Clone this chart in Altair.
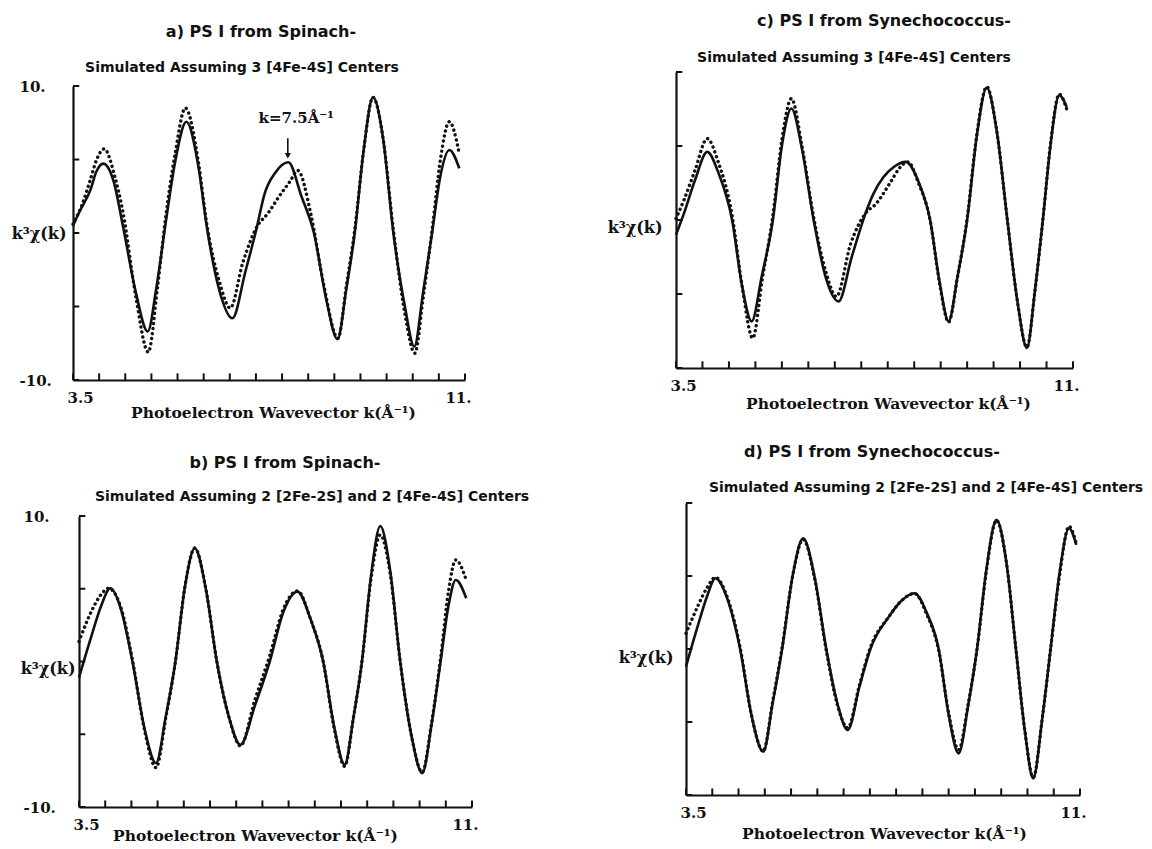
import altair as alt
import pandas as pd

SERIF = "DejaVu Serif"
SANS = "DejaVu Sans"
INK = "#111111"

X_TICKS = [3.5, 4.0, 4.5, 5.0, 5.5, 6.0, 6.5, 7.0, 7.5, 8.0, 8.5, 9.0, 9.5, 10.0, 10.5, 11.0]
Y_TICKS = [-10, -5, 0, 5, 10]
X_DOMAIN = [3.5, 11]
Y_DOMAIN = [-10, 10]
TICK_LEN_V = 0.45   # inward x-tick length, in y units (~6.5 px)
TICK_LEN_K = 0.12   # inward y-tick length, in k units (~6 px)
X_TITLE = "Photoelectron Wavevector k(Å⁻¹)"
Y_TITLE = "k³χ(k)"

# ---- panel a : PS I from Spinach, 3 [4Fe-4S]
A_FIT_K = [3.50, 3.63, 3.83, 3.95, 4.08, 4.27, 4.46, 4.70, 4.93, 5.10, 5.29, 5.45, 5.67, 5.90, 6.06, 6.30, 6.55, 6.80, 7.02, 7.16,
           7.37, 7.62, 7.87, 8.11, 8.35, 8.56, 8.73, 8.89, 9.06, 9.24, 9.43, 9.63, 9.85, 10.03, 10.20, 10.37, 10.53, 10.70, 10.89]
A_FIT_V = [0.5, 1.5, 2.9, 4.2, 4.72, 3.6, 0.4, -4.0, -6.7, -3.6, 1.1, 4.76, 7.57, 4.5, 0.43, -3.9, -5.8, -2.6, 0.43, 2.6,
           4.1, 4.81, 2.5, 0.0, -4.6, -7.23, -3.8, 0.0, 5.6, 9.23, 6.5, 0.0, -5.0, -7.73, -4.0, 0.0, 3.9, 5.65, 4.4]
A_DAT_K = [3.50, 3.67, 3.83, 3.95, 4.10, 4.30, 4.46, 4.70, 4.94, 5.12, 5.27, 5.45, 5.65, 5.90, 6.06, 6.30, 6.51, 6.75, 7.02, 7.23,
           7.44, 7.65, 7.80, 8.05, 8.29, 8.57, 8.73, 8.89, 9.06, 9.24, 9.43, 9.63, 9.85, 10.04, 10.20, 10.37, 10.53, 10.70, 10.89]
A_DAT_V = [0.6, 1.9, 3.6, 4.97, 5.72, 3.83, 1.34, -4.3, -8.1, -3.6, 1.0, 5.3, 8.5, 4.8, 0.6, -3.3, -5.1, -2.0, 0.43, 1.34,
           2.47, 3.5, 4.25, 1.3, -3.4, -7.16, -3.6, 0.2, 5.6, 9.23, 6.5, 0.2, -5.5, -8.18, -4.4, 0.2, 5.0, 7.57, 5.4]

# ---- panel b : PS I from Spinach, 2 [2Fe-2S] + 2 [4Fe-4S]
B_FIT_K = [3.50, 3.75, 3.92, 4.10, 4.30, 4.52, 4.75, 4.97, 5.16, 5.34, 5.52, 5.71, 5.92, 6.13, 6.36, 6.58, 6.86, 7.14, 7.40,
           7.67, 7.92, 8.16, 8.37, 8.57, 8.74, 8.90, 9.07, 9.25, 9.44, 9.63, 9.85, 10.05, 10.23, 10.40, 10.55, 10.69, 10.89]
B_FIT_V = [-1.1, 1.9, 3.8, 5.03, 3.6, 0.0, -4.6, -6.98, -3.7, 0.0, 5.1, 7.78, 5.0, 0.0, -3.8, -5.72, -3.0, 0.0, 3.4,
           4.8, 2.9, 0.0, -4.5, -7.09, -3.8, 0.0, 5.8, 9.31, 6.2, 0.0, -5.2, -7.67, -4.3, 0.0, 3.8, 5.6, 4.35]
B_DAT_K = [3.50, 3.75, 3.92, 4.06, 4.30, 4.52, 4.75, 4.97, 5.16, 5.34, 5.52, 5.71, 5.92, 6.13, 6.36, 6.58, 6.86, 7.14, 7.40,
           7.67, 7.92, 8.16, 8.37, 8.57, 8.74, 8.90, 9.07, 9.25, 9.44, 9.63, 9.85, 10.05, 10.23, 10.40, 10.55, 10.69, 10.89]
B_DAT_V = [1.37, 3.55, 4.6, 5.03, 3.7, 0.1, -4.7, -7.3, -3.8, 0.0, 5.1, 7.8, 5.0, 0.0, -3.8, -5.8, -2.6, 0.4, 3.6,
           4.85, 2.9, 0.0, -4.6, -7.2, -3.8, 0.0, 5.6, 8.7, 6.0, 0.0, -5.2, -7.6, -4.2, 0.2, 4.8, 6.98, 5.6]

# ---- panel c : PS I from Synechococcus, 3 [4Fe-4S]
C_FIT_K = [3.50, 3.65, 3.86, 4.09, 4.30, 4.56, 4.75, 4.93, 5.12, 5.33, 5.50, 5.68, 5.88, 6.10, 6.33, 6.57, 6.82, 7.08, 7.22, 7.42,
           7.62, 7.84, 8.08, 8.30, 8.48, 8.65, 8.82, 9.00, 9.18, 9.37, 9.56, 9.76, 9.95, 10.13, 10.28, 10.43, 10.58, 10.74, 10.88]
C_FIT_V = [-1.0, 0.45, 2.7, 4.6, 3.2, 0.0, -4.5, -6.85, -3.8, 0.0, 5.0, 7.53, 4.8, 0.0, -3.9, -5.5, -2.5, 0.45, 1.7, 2.9,
           3.6, 3.93, 2.6, 0.0, -4.2, -6.85, -3.8, 0.0, 5.6, 8.94, 6.0, 0.0, -5.5, -8.65, -4.8, 0.0, 5.2, 8.43, 7.64]
C_DAT_K = [3.50, 3.65, 3.86, 4.09, 4.30, 4.56, 4.75, 4.95, 5.13, 5.33, 5.50, 5.68, 5.88, 6.10, 6.33, 6.53, 6.80, 7.08, 7.28, 7.56,
           7.72, 7.88, 8.08, 8.30, 8.48, 8.65, 8.82, 9.00, 9.18, 9.37, 9.56, 9.76, 9.95, 10.13, 10.28, 10.43, 10.58, 10.74, 10.88]
C_DAT_V = [0.1, 1.35, 3.37, 5.5, 3.9, 0.3, -4.5, -7.98, -4.0, 0.3, 5.4, 8.2, 5.0, 0.2, -3.5, -5.17, -1.6, 0.45, 1.1, 2.6,
           3.5, 3.93, 2.5, 0.0, -4.3, -6.9, -3.8, 0.1, 5.7, 9.0, 6.0, 0.0, -5.5, -8.6, -4.8, 0.0, 5.3, 8.5, 7.5]

# ---- panel d : PS I from Synechococcus, 2 [2Fe-2S] + 2 [4Fe-4S]
D_FIT_K = [3.50, 3.72, 3.90, 4.06, 4.28, 4.53, 4.75, 4.97, 5.15, 5.33, 5.53, 5.73, 5.95, 6.17, 6.38, 6.58, 6.80, 7.01, 7.36,
           7.60, 7.85, 8.08, 8.31, 8.50, 8.69, 8.87, 9.04, 9.22, 9.41, 9.60, 9.78, 9.95, 10.11, 10.28, 10.44, 10.61, 10.79, 10.93]
D_FIT_V = [-1.2, 1.53, 3.6, 4.85, 3.5, 0.0, -4.6, -7.04, -3.7, 0.0, 5.0, 7.59, 4.9, 0.0, -3.7, -5.55, -2.6, 0.0, 2.2,
           3.3, 3.82, 2.5, 0.0, -4.5, -7.15, -3.9, 0.0, 5.5, 8.85, 5.9, 0.0, -5.6, -8.87, -4.8, 0.0, 5.2, 8.27, 7.13]
D_DAT_K = [3.50, 3.72, 3.90, 4.06, 4.28, 4.53, 4.75, 4.97, 5.15, 5.33, 5.53, 5.73, 5.95, 6.17, 6.38, 6.58, 6.80, 7.01, 7.36,
           7.60, 7.85, 8.08, 8.31, 8.50, 8.69, 8.87, 9.04, 9.22, 9.41, 9.60, 9.78, 9.95, 10.11, 10.28, 10.44, 10.61, 10.79, 10.93]
D_DAT_V = [1.07, 2.9, 4.2, 4.9, 3.6, 0.1, -4.6, -7.0, -3.6, 0.1, 5.0, 7.5, 4.8, -0.1, -3.8, -5.4, -2.5, 0.1, 2.2,
           3.3, 3.8, 2.4, -0.1, -4.4, -6.9, -3.8, 0.0, 5.4, 8.8, 5.9, 0.0, -5.6, -8.8, -4.8, 0.0, 5.0, 8.4, 7.2]

# annotation in panel a
ANN_TEXT = "k=7.5Å⁻¹"
ANN_TEXT_POS = (7.77, 7.8)
ANN_ARROW_K = 7.61
ANN_ARROW_V = (6.45, 5.45)
ANN_HEAD_V = 5.25


def text_layer(t, x, y, font, size, align="center", baseline="middle", opacity=1.0, weight="bold"):
    return alt.Chart(pd.DataFrame({"t": [t]})).mark_text(
        font=font, fontSize=size, fontWeight=weight, align=align, baseline=baseline,
        color=INK, opacity=opacity,
    ).encode(x=alt.value(x), y=alt.value(y), text="t:N")


def spacer(x, y, align, baseline):
    return text_layer(".", x, y, SANS, 1, align=align, baseline=baseline, opacity=0.0, weight="normal")


def panel(cfg):
    w, h, ox, oy = cfg["w"], cfg["h"], cfg["ox"], cfg["oy"]
    xscale = alt.Scale(domain=X_DOMAIN, range=[ox, ox + w], nice=False, zero=False)
    yscale = alt.Scale(domain=Y_DOMAIN, range=[oy + h, oy], nice=False, zero=False)

    x_axis = alt.Axis(
        values=[3.5, 11], labelExpr="datum.value == 11 ? '11.' : '3.5'",
        domain=True, ticks=False, tickSize=0, grid=False, domainColor=INK, domainWidth=2.2,
        labelFont=SERIF, labelFontWeight="bold", labelFontSize=15, labelColor=INK,
        labelPadding=17, labelBaseline="middle", labelFlush=True, labelFlushOffset=6,
        title=X_TITLE, titleFont=SERIF, titleFontWeight="bold", titleFontSize=15.5, titleColor=INK,
        titleX=cfg["xt"][0], titleY=cfg["xt"][1], titleAlign="center", titleBaseline="middle",
    )
    y_axis = alt.Axis(
        values=[-10, 10], labelExpr="datum.value + '.'", labels=cfg["ylabels"],
        domain=True, ticks=False, tickSize=0, grid=False, domainColor=INK, domainWidth=2.2,
        offset=-ox,
        labelFont=SERIF, labelFontWeight="bold", labelFontSize=15, labelColor=INK,
        labelPadding=cfg["ylab_pad"], labelAlign="left", labelBaseline="middle",
        title=Y_TITLE, titleFont=SERIF, titleFontWeight="bold", titleFontSize=16, titleColor=INK,
        titleAngle=0, titleX=cfg["yt"][0], titleY=cfg["yt"][1], titleAlign="right", titleBaseline="middle",
    )

    def enc(chart, **extra):
        return chart.encode(
            x=alt.X("k:Q", scale=xscale, axis=x_axis),
            y=alt.Y("v:Q", scale=yscale, axis=y_axis),
            **extra,
        )

    fit = enc(alt.Chart(pd.DataFrame({"k": cfg["fit_k"], "v": cfg["fit_v"]})).mark_line(
        interpolate="monotone", color=INK, strokeWidth=2.6))
    dat = enc(alt.Chart(pd.DataFrame({"k": cfg["dat_k"], "v": cfg["dat_v"]})).mark_line(
        interpolate="monotone", color=INK, strokeWidth=3.4, strokeDash=[0.1, 5], strokeCap="round"))

    xtick_df = pd.DataFrame({"k": [float(t) for t in X_TICKS]})
    xtick_df["v"] = float(Y_DOMAIN[0])
    xtick_df["v2"] = Y_DOMAIN[0] + TICK_LEN_V
    ytick_df = pd.DataFrame({"v": [float(t) for t in Y_TICKS]})
    ytick_df["k"] = float(X_DOMAIN[0])
    ytick_df["k2"] = X_DOMAIN[0] + TICK_LEN_K
    xt = enc(alt.Chart(xtick_df).mark_rule(color=INK, strokeWidth=2), y2="v2:Q")
    yt = enc(alt.Chart(ytick_df).mark_rule(color=INK, strokeWidth=2), x2="k2:Q")

    layers = [fit, dat, xt, yt]
    layers.append(text_layer(cfg["title"][0], cfg["title"][1], cfg["title"][2], SANS, 16))
    layers.append(text_layer(cfg["sub"][0], cfg["sub"][1], cfg["sub"][2], SANS, 14))
    for sp in cfg["spacers"]:
        layers.append(spacer(*sp))

    if cfg.get("annotate"):
        layers.append(enc(
            alt.Chart(pd.DataFrame({"k": [ANN_TEXT_POS[0]], "v": [ANN_TEXT_POS[1]], "t": [ANN_TEXT]}))
            .mark_text(font=SERIF, fontSize=15, fontWeight="bold", color=INK), text="t:N"))
        layers.append(enc(
            alt.Chart(pd.DataFrame({"k": [ANN_ARROW_K], "v": [ANN_ARROW_V[0]], "v2": [ANN_ARROW_V[1]]}))
            .mark_rule(color=INK, strokeWidth=1.6), y2="v2:Q"))
        layers.append(enc(
            alt.Chart(pd.DataFrame({"k": [ANN_ARROW_K], "v": [ANN_HEAD_V]}))
            .mark_point(shape="triangle-down", filled=True, size=40, color=INK, opacity=1)))

    return alt.layer(*layers).properties(width=w + ox, height=h + oy)


pa = panel(dict(
    fit_k=A_FIT_K, fit_v=A_FIT_V, dat_k=A_DAT_K, dat_v=A_DAT_V, w=392, h=294, ox=0, oy=14,
    ylabels=True, ylab_pad=54, yt=(-7, 161), xt=(200, 32),
    title=("a) PS I from Spinach-", 188, -40), sub=("Simulated Assuming 3 [4Fe-4S] Centers", 169, -4),
    spacers=[(-68, 0, "left", "middle"), (0, 356, "left", "bottom")], annotate=True,
))
pb = panel(dict(
    fit_k=B_FIT_K, fit_v=B_FIT_V, dat_k=B_DAT_K, dat_v=B_DAT_V, w=393, h=291, ox=6, oy=0,
    ylabels=True, ylab_pad=56, yt=(-4, 152), xt=(182, 28),
    title=("b) PS I from Spinach-", 212, -53),
    sub=("Simulated Assuming 2 [2Fe-2S] and 2 [4Fe-4S] Centers", 239, -19),
    spacers=[(0, -68, "left", "top"), (479, 100, "right", "middle")],
))
pc = panel(dict(
    fit_k=C_FIT_K, fit_v=C_FIT_V, dat_k=C_DAT_K, dat_v=C_DAT_V, w=397, h=296, ox=0, oy=0,
    ylabels=False, ylab_pad=54, yt=(-14, 155), xt=(212, 35),
    title=("c) PS I from Synechococcus-", 208, -51), sub=("Simulated Assuming 3 [4Fe-4S] Centers", 178, -14),
    spacers=[(-76, -61, "left", "top"), (0, 350, "left", "bottom")],
))
pd_ = panel(dict(
    fit_k=D_FIT_K, fit_v=D_FIT_V, dat_k=D_DAT_K, dat_v=D_DAT_V, w=394, h=292, ox=10, oy=0,
    ylabels=False, ylab_pad=54, yt=(-13, 154), xt=(208, 38),
    title=("d) PS I from Synechococcus-", 196, -51),
    sub=("Simulated Assuming 2 [2Fe-2S] and 2 [4Fe-4S] Centers", 250, -15),
    spacers=[(-76, -61, "left", "top")],
))

left = alt.vconcat(pa, pb, spacing=20)
right = alt.vconcat(pc, pd_, spacing=20)
chart = alt.hconcat(left, right, spacing=48).properties(
    padding={"left": 5, "top": 11, "right": 0, "bottom": 0},
    background="white",
).configure_view(strokeOpacity=0)

chart.save("out.html", embed_options={"renderer": "svg", "actions": False})
